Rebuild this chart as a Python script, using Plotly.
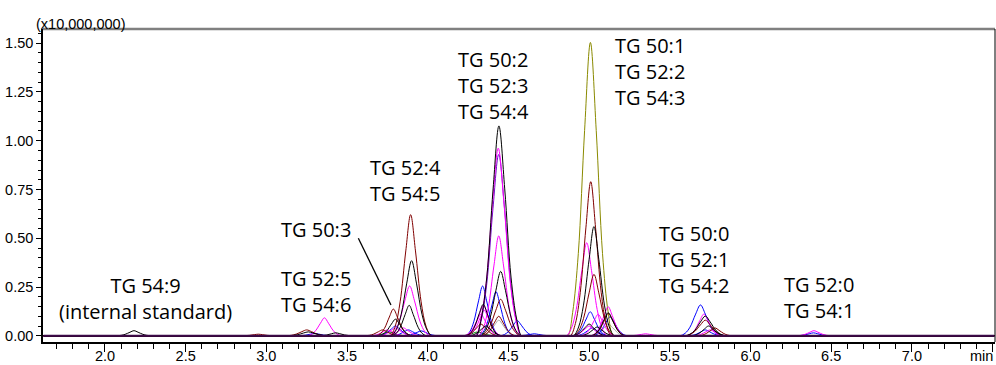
import plotly.graph_objects as go

# ---------------- data: samples read off each channel (time in min, intensity in units of 10,000,000) ----------------
# black channels
K1_t = [1.62, 2.055, 2.075, 2.10, 2.125, 2.155, 2.18, 2.205, 2.235, 2.26, 2.285, 2.305,
        3.755, 3.775, 3.805, 3.835, 3.87, 3.90, 3.93, 3.965, 3.995, 4.025, 4.045,
        4.885, 4.905, 4.935, 4.965, 5.00, 5.03, 5.06, 5.095, 5.125, 5.155, 5.175, 7.51]
K1_y = [0, 0, 0, 0.0021, 0.0073, 0.0182, 0.026, 0.0182, 0.0073, 0.0021, 0, 0,
        0, 0, 0.031, 0.108, 0.27, 0.385, 0.27, 0.108, 0.031, 0, 0,
        0, 0, 0.045, 0.157, 0.392, 0.56, 0.392, 0.157, 0.045, 0, 0, 0]
K2_t = [1.62, 4.276, 4.301, 4.331, 4.366, 4.405, 4.441, 4.477, 4.516, 4.551, 4.581, 4.606,
        5.575, 5.595, 5.625, 5.655, 5.69, 5.72, 5.75, 5.785, 5.815, 5.845, 5.865, 7.51]
K2_y = [0, 0, 0, 0.086, 0.301, 0.753, 1.076, 0.753, 0.301, 0.086, 0, 0,
        0, 0, 0.008, 0.028, 0.071, 0.101, 0.071, 0.028, 0.008, 0, 0, 0]
K3_t = [1.62, 3.675, 3.695, 3.72, 3.745, 3.775, 3.80, 3.825, 3.855, 3.88, 3.905, 3.925,
        4.307, 4.327, 4.357, 4.387, 4.422, 4.452, 4.482, 4.517, 4.547, 4.577, 4.597,
        4.993, 5.013, 5.038, 5.063, 5.093, 5.118, 5.143, 5.173, 5.198, 5.223, 5.243, 7.51]
K3_y = [0, 0, 0, 0.0068, 0.024, 0.06, 0.085, 0.06, 0.024, 0.0068, 0, 0,
        0, 0, 0.026, 0.092, 0.231, 0.33, 0.231, 0.092, 0.026, 0, 0,
        0, 0, 0.0094, 0.033, 0.083, 0.118, 0.083, 0.033, 0.0094, 0, 0, 0]
K4_t = [1.62, 3.305, 3.325, 3.35, 3.375, 3.405, 3.43, 3.455, 3.485, 3.51, 3.535, 3.555,
        3.76, 3.78, 3.805, 3.83, 3.86, 3.885, 3.91, 3.94, 3.965, 3.99, 4.01,
        4.219, 4.239, 4.264, 4.289, 4.319, 4.344, 4.369, 4.399, 4.424, 4.449, 4.469,
        4.875, 4.895, 4.92, 4.945, 4.975, 5.00, 5.025, 5.055, 5.08, 5.105, 5.125,
        5.615, 5.635, 5.66, 5.685, 5.715, 5.74, 5.765, 5.795, 5.82, 5.845, 5.865, 7.51]
K4_y = [0, 0, 0, 0.0012, 0.0042, 0.0105, 0.015, 0.0105, 0.0042, 0.0012, 0, 0,
        0, 0, 0.0125, 0.044, 0.109, 0.156, 0.109, 0.044, 0.0125, 0, 0,
        0, 0, 0.0129, 0.045, 0.113, 0.161, 0.113, 0.045, 0.0129, 0, 0,
        0, 0, 0.0048, 0.0168, 0.042, 0.06, 0.042, 0.0168, 0.0048, 0, 0,
        0, 0, 0.004, 0.014, 0.035, 0.05, 0.035, 0.014, 0.004, 0, 0, 0]
K5_t = [1.62, 3.115, 3.135, 3.165, 3.195, 3.23, 3.26, 3.29, 3.325, 3.355, 3.385, 3.405,
        4.235, 4.255, 4.28, 4.305, 4.335, 4.36, 4.385, 4.415, 4.44, 4.465, 4.485,
        4.925, 4.945, 4.97, 4.995, 5.025, 5.05, 5.075, 5.105, 5.13, 5.155, 5.175, 7.51]
K5_y = [0, 0, 0, 0.0016, 0.0056, 0.014, 0.02, 0.014, 0.0056, 0.0016, 0, 0,
        0, 0, 0.004, 0.014, 0.035, 0.05, 0.035, 0.014, 0.004, 0, 0,
        0, 0, 0.0036, 0.0126, 0.0315, 0.045, 0.0315, 0.0126, 0.0036, 0, 0, 0]

# dark red channels
R1_t = [1.62, 3.749, 3.769, 3.799, 3.829, 3.864, 3.894, 3.924, 3.959, 3.989, 4.019, 4.039,
        4.865, 4.885, 4.915, 4.945, 4.98, 5.01, 5.04, 5.075, 5.105, 5.135, 5.155, 7.51]
R1_y = [0, 0, 0, 0.05, 0.174, 0.435, 0.621, 0.435, 0.174, 0.05, 0, 0,
        0, 0, 0.063, 0.221, 0.553, 0.79, 0.553, 0.221, 0.063, 0, 0, 0]
R2_t = [1.62, 3.662, 3.682, 3.707, 3.732, 3.762, 3.787, 3.812, 3.842, 3.867, 3.892, 3.912,
        4.307, 4.327, 4.357, 4.387, 4.422, 4.452, 4.482, 4.517, 4.547, 4.577, 4.597,
        4.885, 4.905, 4.935, 4.965, 5.00, 5.03, 5.06, 5.095, 5.125, 5.155, 5.175, 7.51]
R2_y = [0, 0, 0, 0.011, 0.038, 0.096, 0.137, 0.096, 0.038, 0.011, 0, 0,
        0, 0, 0.015, 0.052, 0.131, 0.187, 0.131, 0.052, 0.015, 0, 0,
        0, 0, 0.025, 0.088, 0.22, 0.315, 0.22, 0.088, 0.025, 0, 0, 0]
R3_t = [1.62, 2.825, 2.845, 2.87, 2.895, 2.925, 2.95, 2.975, 3.005, 3.03, 3.055, 3.075,
        3.105, 3.125, 3.155, 3.185, 3.22, 3.25, 3.28, 3.315, 3.345, 3.375, 3.395,
        4.315, 4.335, 4.36, 4.385, 4.415, 4.44, 4.465, 4.495, 4.52, 4.545, 4.565,
        4.995, 5.015, 5.04, 5.065, 5.095, 5.12, 5.145, 5.175, 5.20, 5.225, 5.245,
        5.655, 5.675, 5.70, 5.725, 5.755, 5.78, 5.805, 5.835, 5.86, 5.885, 5.905, 7.51]
R3_y = [0, 0, 0, 0.0006, 0.0022, 0.0056, 0.008, 0.0056, 0.0022, 0.0006, 0, 0,
        0, 0, 0.0024, 0.0084, 0.021, 0.03, 0.021, 0.0084, 0.0024, 0, 0,
        0, 0, 0.008, 0.028, 0.07, 0.10, 0.07, 0.028, 0.008, 0, 0,
        0, 0, 0.0092, 0.032, 0.08, 0.115, 0.08, 0.032, 0.0092, 0, 0,
        0, 0, 0.0032, 0.0112, 0.028, 0.04, 0.028, 0.0112, 0.0032, 0, 0, 0]
R4_t = [1.62, 3.595, 3.615, 3.64, 3.665, 3.695, 3.72, 3.745, 3.775, 3.80, 3.825, 3.845,
        4.205, 4.225, 4.25, 4.275, 4.305, 4.33, 4.355, 4.385, 4.41, 4.435, 4.455,
        5.575, 5.595, 5.625, 5.655, 5.69, 5.72, 5.75, 5.785, 5.815, 5.845, 5.865, 7.51]
R4_y = [0, 0, 0, 0.0024, 0.0084, 0.021, 0.03, 0.021, 0.0084, 0.0024, 0, 0,
        0, 0, 0.0048, 0.0168, 0.042, 0.06, 0.042, 0.0168, 0.0048, 0, 0,
        0, 0, 0.0064, 0.0224, 0.056, 0.08, 0.056, 0.0224, 0.0064, 0, 0, 0]

# magenta channels
M1_t = [1.62, 4.272, 4.297, 4.327, 4.362, 4.401, 4.437, 4.473, 4.512, 4.547, 4.577, 4.602,
        4.84, 4.86, 4.89, 4.92, 4.955, 4.985, 5.015, 5.05, 5.08, 5.11, 5.13, 7.51]
M1_y = [0, 0, 0, 0.077, 0.269, 0.673, 0.962, 0.673, 0.269, 0.077, 0, 0,
        0, 0, 0.038, 0.134, 0.334, 0.477, 0.334, 0.134, 0.038, 0, 0, 0]
M2_t = [1.62, 3.235, 3.255, 3.28, 3.305, 3.335, 3.36, 3.385, 3.415, 3.44, 3.465, 3.485,
        3.743, 3.763, 3.793, 3.823, 3.858, 3.888, 3.918, 3.953, 3.983, 4.013, 4.033,
        4.295, 4.315, 4.345, 4.375, 4.41, 4.44, 4.47, 4.505, 4.535, 4.565, 4.585,
        4.993, 5.013, 5.038, 5.063, 5.093, 5.118, 5.143, 5.173, 5.198, 5.223, 5.243, 7.51]
M2_y = [0, 0, 0, 0.0074, 0.026, 0.064, 0.092, 0.064, 0.026, 0.0074, 0, 0,
        0, 0, 0.02, 0.071, 0.179, 0.255, 0.179, 0.071, 0.02, 0, 0,
        0, 0, 0.041, 0.143, 0.358, 0.512, 0.358, 0.143, 0.041, 0, 0,
        0, 0, 0.012, 0.042, 0.104, 0.149, 0.104, 0.042, 0.012, 0, 0, 0]
M3_t = [1.62, 3.675, 3.695, 3.72, 3.745, 3.775, 3.80, 3.825, 3.855, 3.88, 3.905, 3.925,
        4.22, 4.24, 4.265, 4.29, 4.32, 4.345, 4.37, 4.40, 4.425, 4.45, 4.47,
        4.931, 4.951, 4.976, 5.001, 5.031, 5.056, 5.081, 5.111, 5.136, 5.161, 5.181,
        5.586, 5.606, 5.631, 5.656, 5.686, 5.711, 5.736, 5.766, 5.791, 5.816, 5.836,
        6.268, 6.288, 6.313, 6.338, 6.368, 6.393, 6.418, 6.448, 6.473, 6.498, 6.518, 7.51]
M3_y = [0, 0, 0, 0.0032, 0.0112, 0.028, 0.04, 0.028, 0.0112, 0.0032, 0, 0,
        0, 0, 0.0126, 0.044, 0.11, 0.157, 0.11, 0.044, 0.0126, 0, 0,
        0, 0, 0.0088, 0.031, 0.077, 0.11, 0.077, 0.031, 0.0088, 0, 0,
        0, 0, 0.0089, 0.031, 0.078, 0.111, 0.078, 0.031, 0.0089, 0, 0,
        0, 0, 0.0021, 0.0073, 0.0182, 0.026, 0.0182, 0.0073, 0.0021, 0, 0, 0]
M4_t = [1.62, 3.625, 3.645, 3.67, 3.695, 3.725, 3.75, 3.775, 3.805, 3.83, 3.855, 3.875,
        4.225, 4.245, 4.27, 4.295, 4.325, 4.35, 4.375, 4.405, 4.43, 4.455, 4.475,
        4.875, 4.895, 4.92, 4.945, 4.975, 5.00, 5.025, 5.055, 5.08, 5.105, 5.125,
        5.225, 5.245, 5.27, 5.295, 5.325, 5.35, 5.375, 5.405, 5.43, 5.455, 5.475,
        5.625, 5.645, 5.67, 5.695, 5.725, 5.75, 5.775, 5.805, 5.83, 5.855, 5.875, 7.51]
M4_y = [0, 0, 0, 0.0024, 0.0084, 0.021, 0.03, 0.021, 0.0084, 0.0024, 0, 0,
        0, 0, 0.0104, 0.036, 0.091, 0.13, 0.091, 0.036, 0.0104, 0, 0,
        0, 0, 0.004, 0.014, 0.035, 0.05, 0.035, 0.014, 0.004, 0, 0,
        0, 0, 0.0008, 0.0028, 0.007, 0.01, 0.007, 0.0028, 0.0008, 0, 0,
        0, 0, 0.0024, 0.0084, 0.021, 0.03, 0.021, 0.0084, 0.0024, 0, 0, 0]
M5_t = [1.62, 3.725, 3.745, 3.77, 3.795, 3.825, 3.85, 3.875, 3.905, 3.93, 3.955, 3.975,
        4.205, 4.225, 4.25, 4.275, 4.305, 4.33, 4.355, 4.385, 4.41, 4.435, 4.455, 7.51]
M5_y = [0, 0, 0, 0.0032, 0.0112, 0.028, 0.04, 0.028, 0.0112, 0.0032, 0, 0,
        0, 0, 0.0088, 0.031, 0.077, 0.11, 0.077, 0.031, 0.0088, 0, 0, 0]

# blue channels
B1_t = [1.62, 4.215, 4.235, 4.26, 4.285, 4.315, 4.34, 4.365, 4.395, 4.42, 4.445, 4.465,
        4.882, 4.902, 4.927, 4.952, 4.982, 5.007, 5.032, 5.062, 5.087, 5.112, 5.132,
        5.545, 5.565, 5.595, 5.625, 5.66, 5.69, 5.72, 5.755, 5.785, 5.815, 5.835, 7.51]
B1_y = [0, 0, 0, 0.02, 0.071, 0.179, 0.255, 0.179, 0.071, 0.02, 0, 0,
        0, 0, 0.0098, 0.034, 0.086, 0.123, 0.086, 0.034, 0.0098, 0, 0,
        0, 0, 0.0126, 0.044, 0.111, 0.158, 0.111, 0.044, 0.0126, 0, 0, 0]
B2_t = [1.62, 3.675, 3.695, 3.72, 3.745, 3.775, 3.80, 3.825, 3.855, 3.88, 3.905, 3.925,
        4.298, 4.318, 4.343, 4.368, 4.398, 4.423, 4.448, 4.478, 4.503, 4.528, 4.548,
        5.005, 5.025, 5.05, 5.075, 5.105, 5.13, 5.155, 5.185, 5.21, 5.235, 5.255,
        6.265, 6.285, 6.31, 6.335, 6.365, 6.39, 6.415, 6.445, 6.47, 6.495, 6.515, 7.51]
B2_y = [0, 0, 0, 0.004, 0.014, 0.035, 0.05, 0.035, 0.014, 0.004, 0, 0,
        0, 0, 0.018, 0.063, 0.158, 0.226, 0.158, 0.063, 0.018, 0, 0,
        0, 0, 0.0078, 0.0274, 0.069, 0.098, 0.069, 0.0274, 0.0078, 0, 0,
        0, 0, 0.0012, 0.0042, 0.0105, 0.015, 0.0105, 0.0042, 0.0012, 0, 0, 0]
B3_t = [1.62, 3.755, 3.775, 3.80, 3.825, 3.855, 3.88, 3.905, 3.935, 3.96, 3.985, 4.005,
        4.43, 4.45, 4.475, 4.50, 4.53, 4.555, 4.58, 4.61, 4.635, 4.66, 4.68,
        4.895, 4.915, 4.94, 4.965, 4.995, 5.02, 5.045, 5.075, 5.10, 5.125, 5.145,
        5.595, 5.615, 5.64, 5.665, 5.695, 5.72, 5.745, 5.775, 5.80, 5.825, 5.845, 7.51]
B3_y = [0, 0, 0, 0.0024, 0.0084, 0.021, 0.03, 0.021, 0.0084, 0.0024, 0, 0,
        0, 0, 0.0062, 0.0216, 0.054, 0.077, 0.054, 0.0216, 0.0062, 0, 0,
        0, 0, 0.0032, 0.0112, 0.028, 0.04, 0.028, 0.0112, 0.0032, 0, 0,
        0, 0, 0.0024, 0.0084, 0.021, 0.03, 0.021, 0.0084, 0.0024, 0, 0, 0]
B4_t = [1.62, 3.175, 3.195, 3.22, 3.245, 3.275, 3.30, 3.325, 3.355, 3.38, 3.405, 3.425,
        3.835, 3.855, 3.88, 3.905, 3.935, 3.96, 3.985, 4.015, 4.04, 4.065, 4.085,
        4.535, 4.555, 4.58, 4.605, 4.635, 4.66, 4.685, 4.715, 4.74, 4.765, 4.785, 7.51]
B4_y = [0, 0, 0, 0.001, 0.0034, 0.0084, 0.012, 0.0084, 0.0034, 0.001, 0, 0,
        0, 0, 0.002, 0.007, 0.0175, 0.025, 0.0175, 0.007, 0.002, 0, 0,
        0, 0, 0.0008, 0.0028, 0.007, 0.01, 0.007, 0.0028, 0.0008, 0, 0, 0]

# other channels
P1_t = [1.62, 4.275, 4.30, 4.33, 4.365, 4.404, 4.44, 4.476, 4.515, 4.55, 4.58, 4.605, 7.51]
P1_y = [0, 0, 0, 0.074, 0.26, 0.651, 0.93, 0.651, 0.26, 0.074, 0, 0, 0]
O1_t = [1.62, 4.843, 4.868, 4.898, 4.933, 4.972, 5.008, 5.044, 5.083, 5.118, 5.148, 5.173, 7.51]
O1_y = [0, 0, 0, 0.12, 0.421, 1.053, 1.504, 1.053, 0.421, 0.12, 0, 0, 0]
G1_t = [1.62, 4.315, 4.335, 4.36, 4.385, 4.415, 4.44, 4.465, 4.495, 4.52, 4.545, 4.565,
        4.995, 5.015, 5.04, 5.065, 5.095, 5.12, 5.145, 5.175, 5.20, 5.225, 5.245, 7.51]
G1_y = [0, 0, 0, 0.0064, 0.0224, 0.056, 0.08, 0.056, 0.0224, 0.0064, 0, 0,
        0, 0, 0.0048, 0.0168, 0.042, 0.06, 0.042, 0.0168, 0.0048, 0, 0, 0]
N1_t = [1.62, 3.635, 3.655, 3.68, 3.705, 3.735, 3.76, 3.785, 3.815, 3.84, 3.865, 3.885,
        4.185, 4.205, 4.23, 4.255, 4.285, 4.31, 4.335, 4.365, 4.39, 4.415, 4.435, 7.51]
N1_y = [0, 0, 0, 0.0016, 0.0056, 0.014, 0.02, 0.014, 0.0056, 0.0016, 0, 0,
        0, 0, 0.0016, 0.0056, 0.014, 0.02, 0.014, 0.0056, 0.0016, 0, 0, 0]
BASE_t = [1.62, 7.51]
BASE_y = [0, 0]

# leader line for the TG 50:3 label
LEADER_t = [3.570, 3.772]
LEADER_y = [0.500, 0.158]

# peak labels: (text, time, intensity) of each label block centre
LABELS = [
    ("TG 54:9<br>(internal standard)", 2.254, 0.190),
    ("TG 52:5<br>TG 54:6", 3.307, 0.229),
    ("TG 50:3", 3.307, 0.543),
    ("TG 52:4<br>TG 54:5", 3.860, 0.795),
    ("TG 50:2<br>TG 52:3<br>TG 54:4", 4.408, 1.281),
    ("TG 50:1<br>TG 52:2<br>TG 54:3", 5.377, 1.353),
    ("TG 50:0<br>TG 52:1<br>TG 54:2", 5.652, 0.390),
    ("TG 52:0<br>TG 54:1", 6.424, 0.194),
]

X_TICKS = [2.0, 2.5, 3.0, 3.5, 4.0, 4.5, 5.0, 5.5, 6.0, 6.5, 7.0, 7.5]
X_TICKTEXT = ["2.0", "2.5", "3.0", "3.5", "4.0", "4.5", "5.0", "5.5", "6.0", "6.5", "7.0", ""]

BLACK, DRED, MAG, BLUE = "#000000", "#800000", "#ff00ff", "#0000ff"
OLIVE, PURP, GRAY, GREEN, BASEC = "#8a8a00", "#6a10c8", "#a8a8a8", "#008000", "#3c0a48"

SERIES = [
    (G1_t, G1_y, GRAY), (N1_t, N1_y, GREEN),
    (B4_t, B4_y, BLUE), (B3_t, B3_y, BLUE), (B2_t, B2_y, BLUE), (B1_t, B1_y, BLUE),
    (O1_t, O1_y, OLIVE),
    (M5_t, M5_y, MAG), (M4_t, M4_y, MAG), (M3_t, M3_y, MAG), (M2_t, M2_y, MAG),
    (P1_t, P1_y, PURP), (M1_t, M1_y, MAG),
    (R4_t, R4_y, DRED), (R3_t, R3_y, DRED), (R2_t, R2_y, DRED), (R1_t, R1_y, DRED),
    (K5_t, K5_y, BLACK), (K4_t, K4_y, BLACK), (K3_t, K3_y, BLACK), (K2_t, K2_y, BLACK),
    (K1_t, K1_y, BLACK),
]

fig = go.Figure()
for t, y, c in SERIES:
    fig.add_trace(go.Scatter(x=t, y=y, mode="lines", line=dict(color=c, width=1, shape="spline"),
                             hoverinfo="skip", showlegend=False))
fig.add_trace(go.Scatter(x=BASE_t, y=BASE_y, mode="lines", line=dict(color=BASEC, width=2),
                         hoverinfo="skip", showlegend=False))
fig.add_trace(go.Scatter(x=LEADER_t, y=LEADER_y, mode="lines", line=dict(color=BLACK, width=1.3),
                         hoverinfo="skip", showlegend=False))

LABEL_FONT = dict(family="Open Sans, Noto Sans, sans-serif", size=20, color="black")
for text, tx, ty in LABELS:
    fig.add_annotation(x=tx, y=ty, text=text, showarrow=False, font=LABEL_FONT,
                       xanchor="center", yanchor="middle", align="center")

TICK_FONT = dict(family="Liberation Sans, Arial, sans-serif", size=14.5, color="black")
fig.add_annotation(xref="paper", yref="paper", x=-0.006, y=1.0, yanchor="bottom", xanchor="left",
                   xshift=-3, yshift=-5, text="(x10,000,000)", showarrow=False, font=TICK_FONT)
fig.add_annotation(xref="paper", yref="paper", x=1.0, y=0, yanchor="top", xanchor="right",
                   yshift=-4, text="min", showarrow=False, font=TICK_FONT)

fig.update_layout(
    width=996, height=365,
    margin=dict(l=43, r=1, t=29, b=23, pad=0, autoexpand=False),
    paper_bgcolor="white", plot_bgcolor="white",
    showlegend=False,
    xaxis=dict(range=[1.616, 7.515], showgrid=False, zeroline=False, automargin=False,
               showline=True, linecolor="black", linewidth=1.5,
               ticks="outside", ticklen=8, tickwidth=1, tickcolor="black",
               tickmode="array", tickvals=X_TICKS, ticktext=X_TICKTEXT,
               tickfont=TICK_FONT, ticklabelstandoff=-8,
               minor=dict(tickmode="linear", tick0=0, dtick=0.1, ticks="outside",
                          ticklen=5, tickwidth=1, tickcolor="black")),
    yaxis=dict(range=[-0.032, 1.573], showgrid=False, zeroline=False, automargin=False,
               showline=True, linecolor="black", linewidth=1.5,
               ticks="outside", ticklen=5, tickwidth=1, tickcolor="black",
               tick0=0, dtick=0.25, tickformat=".2f", tickfont=TICK_FONT,
               minor=dict(tick0=0, dtick=0.05, ticks="outside", ticklen=3,
                          tickwidth=1, tickcolor="black")),
    shapes=[
        dict(type="line", xref="paper", yref="paper", x0=0, x1=1, y0=1, y1=1,
             line=dict(color="#808080", width=2.5)),
        dict(type="line", xref="paper", yref="paper", x0=1, x1=1, y0=0, y1=1,
             line=dict(color="black", width=1)),
    ],
)

fig.write_html("out.html")
